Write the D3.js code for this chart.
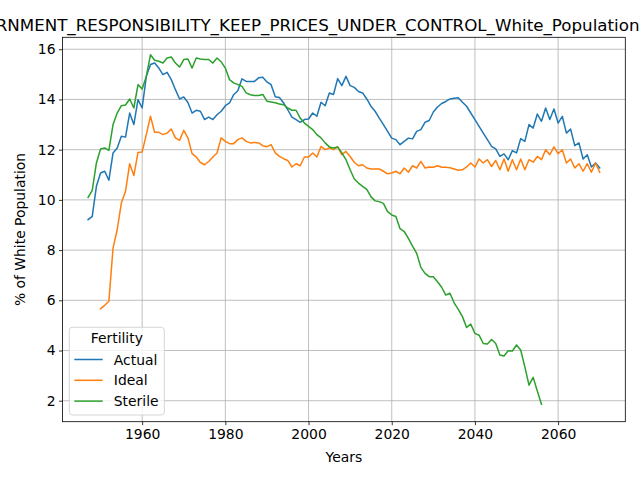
<!DOCTYPE html>
<html><head><meta charset="utf-8">
<script src="https://cdn.jsdelivr.net/npm/d3@7"></script>
<style>body{margin:0;background:#fff}svg{display:block;font-family:"DejaVu Sans",sans-serif}</style>
</head><body><svg id="c" width="640" height="480"></svg>
<script>
const titleText = "GOVERNMENT_RESPONSIBILITY_KEEP_PRICES_UNDER_CONTROL_White_Population";
const seriesNames = ["Actual", "Ideal", "Sterile"];
const actualStart = 1947;
const actualValues = [9.21,9.34,10.54,11.07,11.14,10.78,11.87,12.07,12.53,12.50,13.46,13.0,13.99,13.66,14.92,15.39,15.45,15.25,14.99,15.08,14.79,14.39,14.02,14.10,13.88,13.46,13.57,13.53,13.20,13.30,13.20,13.39,13.53,13.75,13.86,14.19,14.35,14.82,14.72,14.72,14.72,14.86,14.88,14.7,14.59,14.11,14.08,13.86,13.59,13.30,13.20,13.09,13.20,13.22,13.46,13.33,13.89,13.75,14.26,14.2,14.83,14.55,14.92,14.55,14.48,14.32,14.26,14.02,13.73,13.53,13.26,13.0,12.73,12.46,12.40,12.2,12.33,12.46,12.43,12.73,12.80,13.09,13.16,13.5,13.7,13.84,13.92,14.02,14.05,14.07,13.89,13.73,13.46,13.20,12.93,12.66,12.40,12.13,12.03,11.73,11.83,11.60,11.96,11.87,12.44,12.33,13.0,12.86,13.42,13.13,13.66,13.20,13.62,13.06,13.33,12.66,12.82,12.16,12.27,11.63,11.80,11.31,11.47,11.27];
const idealStart = 1950;
const idealValues = [5.67,5.8,5.96,8.08,8.81,9.88,10.34,11.44,10.97,11.89,11.91,12.60,13.33,12.69,12.69,12.60,12.66,12.82,12.47,12.37,12.77,12.47,11.84,11.71,11.49,11.40,11.53,11.71,11.87,12.47,12.33,12.24,12.24,12.40,12.47,12.33,12.27,12.29,12.27,12.16,12.12,12.20,11.87,11.73,11.64,11.57,11.31,11.44,11.36,11.71,11.71,11.87,11.71,12.13,12.0,12.07,12.0,12.11,11.80,11.93,11.73,11.50,11.36,11.40,11.27,11.23,11.23,11.23,11.14,11.04,11.07,11.14,11.04,11.27,11.10,11.36,11.27,11.53,11.27,11.31,11.30,11.36,11.30,11.30,11.28,11.23,11.18,11.20,11.31,11.47,11.31,11.63,11.47,11.60,11.33,11.57,11.20,11.63,11.14,11.60,11.20,11.63,11.20,11.60,11.50,11.73,11.60,12.0,11.80,12.11,11.84,12.0,11.47,11.63,11.27,11.44,11.14,11.44,11.10,11.47,11.10];
const sterileStart = 1947;
const sterileValues = [10.1,10.38,11.47,12.03,12.07,11.97,13.0,13.46,13.75,13.78,14.02,13.66,14.59,14.42,14.92,15.78,15.56,15.52,15.45,15.65,15.69,15.45,15.29,15.59,15.61,15.25,15.65,15.61,15.59,15.59,15.45,15.65,15.5,15.25,14.79,14.66,14.59,14.52,14.26,14.19,14.16,14.16,14.2,13.93,13.9,13.87,13.82,13.79,13.66,13.57,13.57,13.26,13.06,12.93,12.80,12.60,12.47,12.27,12.11,12.07,12.11,11.87,11.60,11.20,10.83,10.67,10.54,10.42,10.13,9.96,9.93,9.86,9.53,9.40,9.34,8.85,8.74,8.47,8.16,7.87,7.31,7.07,6.94,6.94,6.74,6.52,6.21,6.28,5.90,5.64,5.35,4.92,5.05,4.68,4.61,4.28,4.26,4.44,4.28,3.82,3.78,3.99,3.98,4.22,4.02,3.35,2.62,2.93,2.39,1.86];
const xTicks = [1960, 1980, 2000, 2020, 2040, 2060];
const yTicks = [2, 4, 6, 8, 10, 12, 14, 16];
const colors = ["#1f77b4", "#ff7f0e", "#2ca02c"];

const toPts = (start, vals) => vals.map((v, i) => ({x: start + i, y: v}));
const series = [toPts(actualStart, actualValues), toPts(idealStart, idealValues), toPts(sterileStart, sterileValues)];

const L = 62.5, R = 625.3, T = 37.3, B = 421.7;
const allX = series.flat().map(d => d.x), allY = series.flat().map(d => d.y);
const xmin = d3.min(allX), xmax = d3.max(allX), ymin = d3.min(allY), ymax = d3.max(allY);
const xm = (xmax - xmin) * 0.05, ym = (ymax - ymin) * 0.05;
const x = d3.scaleLinear().domain([xmin - xm, xmax + xm]).range([L, R]);
const y = d3.scaleLinear().domain([ymin - ym, ymax + ym]).range([B, T]);

const svg = d3.select("#c");
// grid
const g = svg.append("g");
g.selectAll(".gx").data(xTicks).join("line").attr("x1", d => x(d)).attr("x2", d => x(d)).attr("y1", T).attr("y2", B).attr("stroke", "#b0b0b0").attr("stroke-width", 0.8);
g.selectAll(".gy").data(yTicks).join("line").attr("y1", d => y(d)).attr("y2", d => y(d)).attr("x1", L).attr("x2", R).attr("stroke", "#b0b0b0").attr("stroke-width", 0.8);

// lines
const line = d3.line().x(d => x(d.x)).y(d => y(d.y));
series.forEach((s, i) => {
  svg.append("path").datum(s).attr("d", line).attr("fill", "none").attr("stroke", colors[i]).attr("stroke-width", 1.5).attr("stroke-linejoin", "round").attr("stroke-linecap", "square");
});

// axes
const xAxis = svg.append("g").attr("transform", `translate(0,${B})`).call(d3.axisBottom(x).tickValues(xTicks).tickFormat(d3.format("d")).tickSize(3.5).tickPadding(3.5));
const yAxis = svg.append("g").attr("transform", `translate(${L},0)`).call(d3.axisLeft(y).tickValues(yTicks).tickFormat(d3.format("d")).tickSize(3.5).tickPadding(3.5));
[xAxis, yAxis].forEach(a => {
  a.select(".domain").remove();
  a.selectAll("line").attr("stroke", "#000").attr("stroke-width", 0.8);
  a.selectAll("text").attr("font-size", 13.9).attr("fill", "#000").attr("font-family", "DejaVu Sans");
});
svg.append("rect").attr("x", L).attr("y", T).attr("width", R - L).attr("height", B - T).attr("fill", "none").attr("stroke", "#000").attr("stroke-width", 0.8);

// labels (title runs past the left edge, as in the reference)
svg.append("text").attr("x", 639.5).attr("y", 30.5).attr("text-anchor", "end").attr("font-size", 16.7).text(titleText);
svg.append("text").attr("x", (L + R) / 2).attr("y", 462).attr("text-anchor", "middle").attr("font-size", 13.9).text("Years");
svg.append("text").attr("transform", `translate(25,${(T + B) / 2}) rotate(-90)`).attr("text-anchor", "middle").attr("font-size", 13.9).text("% of White Population");

// legend
const lg = svg.append("g");
lg.append("rect").attr("x", 69.3).attr("y", 327.3).attr("width", 95).attr("height", 87.7).attr("rx", 3).attr("fill", "#fff").attr("fill-opacity", 0.8).attr("stroke", "#cccccc").attr("stroke-width", 0.8);
lg.append("text").attr("x", 116.8).attr("y", 343.3).attr("text-anchor", "middle").attr("font-size", 13.9).text("Fertility");
seriesNames.forEach((n, i) => {
  const yy = 359.5 + i * 20.8;
  lg.append("line").attr("x1", 74.3).attr("x2", 102.7).attr("y1", yy).attr("y2", yy).attr("stroke", colors[i]).attr("stroke-width", 1.5);
  lg.append("text").attr("x", 113.8).attr("y", yy + 5).attr("font-size", 13.9).text(n);
});
</script></body></html>
